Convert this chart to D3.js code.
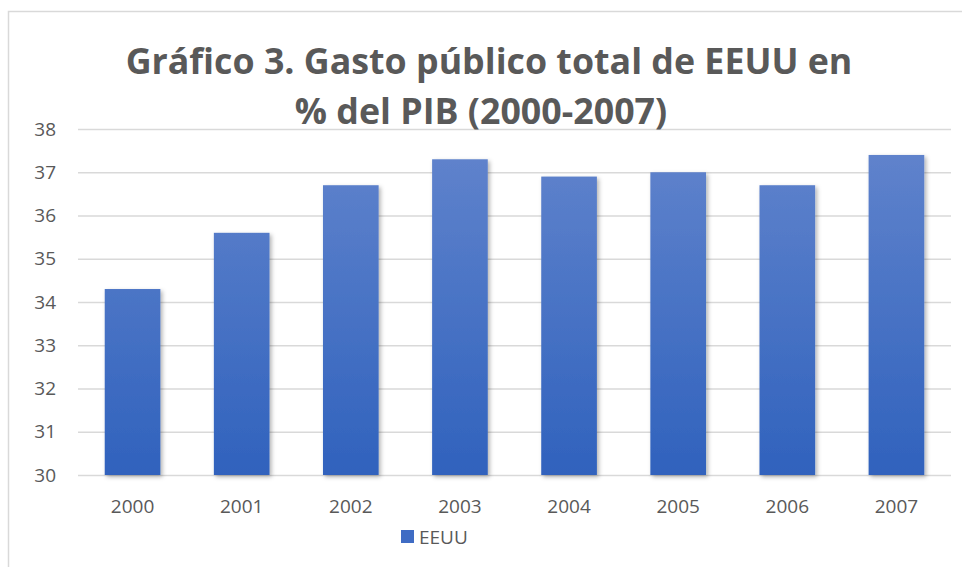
<!DOCTYPE html>
<html>
<head>
<meta charset="utf-8">
<script src="https://cdn.jsdelivr.net/npm/d3@7"></script>
<style>
  body { margin: 0; background: #fff; }
  text { font-family: "Open Sans", sans-serif; fill: #595959; }
</style>
</head>
<body>
<div id="chart"></div>
<script>
  // Data
  var years = ["2000", "2001", "2002", "2003", "2004", "2005", "2006", "2007"];
  var gasto = [34.3, 35.6, 36.7, 37.3, 36.9, 37.0, 36.7, 37.4];
  var yTicks = [30, 31, 32, 33, 34, 35, 36, 37, 38];
  var titleLines = ["Gráfico 3. Gasto público total de EEUU en", "% del PIB (2000-2007)"];
  var seriesName = "EEUU";

  var width = 962,
      height = 567;
  var plot = {left: 78, right: 951, top: 129, bottom: 475};

  var svg = d3.select("#chart")
      .append("svg")
      .attr("width", width)
      .attr("height", height);

  // gradient + shadow for bars
  var defs = svg.append("defs");
  var grad = defs.append("linearGradient")
      .attr("id", "barGrad")
      .attr("gradientUnits", "userSpaceOnUse")
      .attr("x1", 0).attr("y1", plot.top)
      .attr("x2", 0).attr("y2", plot.bottom);
  grad.append("stop").attr("offset", "0%").attr("stop-color", "#6385cd");
  grad.append("stop").attr("offset", "100%").attr("stop-color", "#3062bd");

  var shadow = defs.append("filter")
      .attr("id", "shadow")
      .attr("x", "-20%").attr("y", "-5%")
      .attr("width", "150%").attr("height", "115%");
  shadow.append("feDropShadow")
      .attr("dx", 2).attr("dy", 2)
      .attr("stdDeviation", 2)
      .attr("flood-color", "#000")
      .attr("flood-opacity", 0.3);

  // chart frame
  svg.append("rect")
      .attr("x", 8.5).attr("y", 11.5)
      .attr("width", 1000).attr("height", 700)
      .attr("fill", "#fff")
      .attr("stroke", "#d9d9d9")
      .attr("stroke-width", 1.5);

  // Scales
  var xScale = d3.scaleBand()
      .domain(years)
      .range([plot.left, plot.right])
      .paddingInner(0.49)
      .paddingOuter(0.245);

  var yScale = d3.scaleLinear()
      .domain([30, 38])
      .range([plot.bottom, plot.top]);

  // Gridlines + y labels
  var yAxis = svg.append("g")
      .attr("transform", `translate(${plot.left}, 0)`)
      .call(d3.axisLeft(yScale)
        .tickValues(yTicks)
        .tickSize(-(plot.right - plot.left))
        .tickPadding(22));
  yAxis.select(".domain").remove();
  yAxis.selectAll("line")
      .attr("stroke", "#d9d9d9")
      .attr("stroke-width", 1.5);
  yAxis.selectAll("text")
      .attr("font-size", "19px")
      .attr("fill", "#595959");

  // Bars
  var rows = years.map(function(y, i) { return {year: y, value: gasto[i]}; });

  svg.append("g")
      .selectAll("rect")
      .data(rows)
      .enter()
      .append("rect")
      .attr("x", d => xScale(d.year))
      .attr("y", d => yScale(d.value))
      .attr("width", xScale.bandwidth())
      .attr("height", d => yScale(30) - yScale(d.value))
      .attr("fill", "url(#barGrad)")
      .attr("filter", "url(#shadow)");

  // x labels
  var xAxis = svg.append("g")
      .attr("transform", `translate(0, ${plot.bottom})`)
      .call(d3.axisBottom(xScale).tickSize(0));
  xAxis.select(".domain").remove();
  xAxis.selectAll("text")
      .attr("y", 38)
      .attr("dy", null)
      .attr("font-size", "19px")
      .attr("fill", "#595959");

  // Title, sized to match the original line width
  var title = svg.append("g");
  var t1 = title.append("text")
      .attr("x", 489)
      .attr("y", 74)
      .attr("text-anchor", "middle")
      .attr("font-weight", "bold")
      .attr("font-size", "36px")
      .text(titleLines[0]);
  var fs = 36 * 727 / t1.node().getComputedTextLength();
  t1.attr("font-size", fs + "px");
  title.append("text")
      .attr("x", 481)
      .attr("y", 124)
      .attr("text-anchor", "middle")
      .attr("font-weight", "bold")
      .attr("font-size", fs + "px")
      .text(titleLines[1]);

  // Legend
  var legend = svg.append("g").attr("transform", "translate(401, 530)");
  legend.append("rect")
      .attr("width", 13).attr("height", 13)
      .attr("fill", "#3f6cc4");
  legend.append("text")
      .attr("x", 18)
      .attr("y", 14)
      .attr("font-size", "19px")
      .text(seriesName);
</script>
</body>
</html>
